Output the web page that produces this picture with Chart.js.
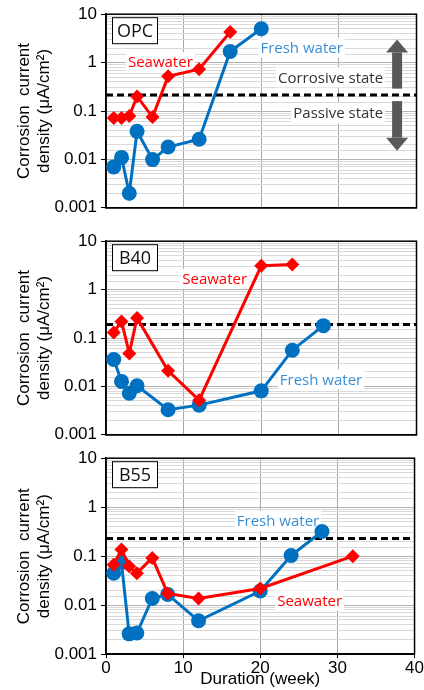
<!DOCTYPE html>
<html>
<head>
<meta charset="utf-8">
<script src="https://cdn.jsdelivr.net/npm/chart.js@4.4.1/dist/chart.umd.min.js"></script>
<style>
  body { margin: 0; background: #fff; }
  #wrap { position: relative; width: 424px; height: 690px; }
  #wrap canvas { position: absolute; left: 0; }
</style>
</head>
<body>
<div id="wrap">
  <canvas id="c1" width="424" height="222" style="top:0px"></canvas>
  <canvas id="c2" width="424" height="222" style="top:227px"></canvas>
  <canvas id="c3" width="424" height="246" style="top:444px"></canvas>
</div>
<script>
// --- data (x = week, y = µA/cm²) ---
const opcFreshWeeks = [1, 2, 3, 4, 6, 8, 12, 16, 20];
const opcFreshVals  = [0.007, 0.011, 0.002, 0.038, 0.0099, 0.018, 0.026, 1.7, 5.0];
const opcSeaWeeks   = [1, 2, 3, 4, 6, 8, 12, 16];
const opcSeaVals    = [0.072, 0.072, 0.079, 0.2, 0.075, 0.52, 0.73, 4.3];

const b40FreshWeeks = [1, 2, 3, 4, 8, 12, 20, 24, 28];
const b40FreshVals  = [0.036, 0.0127, 0.0072, 0.0103, 0.0033, 0.0041, 0.0081, 0.056, 0.18];
const b40SeaWeeks   = [1, 2, 3, 4, 8, 12, 20, 24];
const b40SeaVals    = [0.13, 0.22, 0.048, 0.26, 0.021, 0.0052, 3.1, 3.3];

const b55FreshWeeks = [1, 2, 3, 4, 6, 8, 12, 20, 24, 28];
const b55FreshVals  = [0.045, 0.075, 0.0026, 0.0027, 0.0137, 0.0166, 0.0048, 0.0195, 0.103, 0.32];
const b55SeaWeeks   = [1, 2, 3, 4, 6, 8, 12, 20, 32];
const b55SeaVals    = [0.067, 0.137, 0.062, 0.045, 0.092, 0.0174, 0.0137, 0.022, 0.1];

// threshold (dashed line) per panel
const thresholds = [0.214, 0.19, 0.23];
const thresholdWeeks = [0, 40];

const panelNames = ['OPC', 'B40', 'B55'];
const yTickLabels = ['0.001', '0.01', '0.1', '1', '10'];
const xTickLabels = ['0', '10', '20', '30', '40'];
const yTitle = ['Corrosion  current', 'density (\u03bcA/cm\u00b2)'];
const xTitle = 'Duration (week)';

// annotation text: [text, week, value, colour, align]
const opcLabels = [
  ['Seawater', 7.0, 1.02, '#ff0000', 'center'],
  ['Fresh water', 25.2, 2.02, '#3a8fd6', 'center'],
  ['Corrosive state', 35.7, 0.495, '#333333', 'right'],
  ['Passive state', 35.7, 0.091, '#333333', 'right']
];
const b40Labels = [
  ['Seawater', 14.0, 1.67, '#ff0000', 'center'],
  ['Fresh water', 27.7, 0.014, '#3a8fd6', 'center']
];
const b55Labels = [
  ['Fresh water', 22.3, 0.52, '#3a8fd6', 'center'],
  ['Seawater', 26.4, 0.0126, '#ff0000', 'center']
];
// arrows in OPC panel: [week, tail value, tip value]
const opcArrows = [
  [37.5, 0.29, 3.0],
  [37.5, 0.16, 0.0151]
];

Chart.defaults.font.family = '"Liberation Sans", Arial, sans-serif';
Chart.defaults.color = '#000';

const isMajor = v => Math.abs(Math.log10(v) - Math.round(Math.log10(v))) < 1e-6;
const zip = (xs, ys) => xs.map((x, i) => ({ x: x, y: ys[i] }));

// draws the frame, panel name box, text labels and arrows
const decor = {
  id: 'decor',
  beforeDatasetsDraw(chart, args, opts) {
    const ctx = chart.ctx;
    const a = chart.chartArea;
    const xs = chart.scales.x, ys = chart.scales.y;
    ctx.save();

    // text labels on white boxes
    ctx.font = '15px "Open Sans", sans-serif';
    ctx.textBaseline = 'middle';
    (opts.labels || []).forEach(l => {
      const px = xs.getPixelForValue(l[1]);
      const py = ys.getPixelForValue(l[2]);
      const w = ctx.measureText(l[0]).width;
      const left = l[4] === 'right' ? px - w : px - w / 2;
      ctx.fillStyle = '#fff';
      ctx.fillRect(left - 2, py - 10, w + 4, 20);
      ctx.fillStyle = l[3];
      ctx.textAlign = 'left';
      ctx.fillText(l[0], left, py + 1);
    });

    // grey arrows
    ctx.fillStyle = '#595959';
    (opts.arrows || []).forEach(ar => {
      const px = xs.getPixelForValue(ar[0]);
      const tail = ys.getPixelForValue(ar[1]);
      const tip = ys.getPixelForValue(ar[2]);
      const dir = tip < tail ? -1 : 1;
      const head = 13, sw = 5, hw = 11;
      const base = tip - dir * head;
      ctx.fillRect(px - sw, Math.min(tail, base), sw * 2, Math.abs(base - tail));
      ctx.beginPath();
      ctx.moveTo(px - hw, base);
      ctx.lineTo(px + hw, base);
      ctx.lineTo(px, tip);
      ctx.closePath();
      ctx.fill();
    });

    // panel name box
    ctx.fillStyle = '#fff';
    ctx.strokeStyle = '#000';
    ctx.lineWidth = 1;
    const bx = a.left + 6.5, by = a.top + 3.5;
    ctx.fillRect(bx, by, 45, 26);
    ctx.strokeRect(bx, by, 45, 26);
    ctx.fillStyle = '#111';
    ctx.font = '18px "Open Sans", sans-serif';
    ctx.textAlign = 'center';
    ctx.fillText(opts.name, bx + 22.5, by + 14);

    // plot frame
    ctx.lineWidth = 1.5;
    ctx.strokeStyle = '#000';
    ctx.strokeRect(a.left, a.top, a.right - a.left, a.bottom - a.top);
    ctx.restore();
  }
};

function makePanel(id, freshW, freshV, seaW, seaV, thr, name, labels, arrows, showX) {
  return new Chart(document.getElementById(id), {
    type: 'line',
    plugins: [decor],
    data: {
      datasets: [
        {
          label: 'Seawater',
          data: zip(seaW, seaV),
          borderColor: '#ff0000',
          backgroundColor: '#ff0000',
          borderWidth: 3,
          pointStyle: 'rectRot',
          pointRadius: 7,
          pointBorderWidth: 0,
          order: 0
        },
        {
          label: 'Fresh water',
          data: zip(freshW, freshV),
          borderColor: '#0070c0',
          backgroundColor: '#0070c0',
          borderWidth: 3,
          pointStyle: 'circle',
          pointRadius: 7.5,
          pointBorderWidth: 0,
          order: 1
        },
        {
          label: 'threshold',
          data: zip(thresholdWeeks, [thr, thr]),
          borderColor: '#000',
          borderWidth: 3,
          borderDash: [7, 4],
          pointRadius: 0,
          order: 2
        }
      ]
    },
    options: {
      responsive: false,
      animation: false,
      layout: { padding: { top: 4, right: 7, bottom: showX ? 0 : 6, left: 0 } },
      plugins: {
        legend: { display: false },
        tooltip: { enabled: false },
        decor: { name: name, labels: labels, arrows: arrows }
      },
      scales: {
        x: {
          type: 'linear',
          min: 0,
          max: 40,
          afterBuildTicks: s => { s.ticks = xTickLabels.map(t => ({ value: Number(t) })); },
          ticks: {
            display: showX,
            autoSkip: false,
            maxRotation: 0,
            padding: 0,
            font: { size: 17 },
            callback: v => String(v)
          },
          grid: { color: '#a6a6a6', lineWidth: 1, drawTicks: showX, tickLength: 4, tickColor: '#000' },
          border: { color: '#000', width: 1.5 },
          title: {
            display: showX,
            text: xTitle,
            font: { size: 17 },
            padding: { top: -9, bottom: 0 }
          }
        },
        y: {
          type: 'logarithmic',
          min: 0.001,
          max: 10,
          afterFit: s => { s.width = 106; },
          ticks: {
            autoSkip: false,
            padding: 4,
            font: { size: 17 },
            callback: v => isMajor(v) ? yTickLabels[Math.round(Math.log10(v)) + 3] : ''
          },
          grid: {
            color: c => isMajor(c.tick.value) ? '#b4b4b4' : '#d9d9d9',
            tickColor: c => isMajor(c.tick.value) ? '#000' : 'rgba(0,0,0,0)',
            tickLength: 5
          },
          border: { color: '#000', width: 1.5 },
          title: {
            display: true,
            text: yTitle,
            font: { size: 17 },
            padding: { top: 14, bottom: 0 }
          }
        }
      }
    }
  });
}

makePanel('c1', opcFreshWeeks, opcFreshVals, opcSeaWeeks, opcSeaVals, thresholds[0], panelNames[0], opcLabels, opcArrows, false);
makePanel('c2', b40FreshWeeks, b40FreshVals, b40SeaWeeks, b40SeaVals, thresholds[1], panelNames[1], b40Labels, [], false);
makePanel('c3', b55FreshWeeks, b55FreshVals, b55SeaWeeks, b55SeaVals, thresholds[2], panelNames[2], b55Labels, [], true);
</script>
</body>
</html>
